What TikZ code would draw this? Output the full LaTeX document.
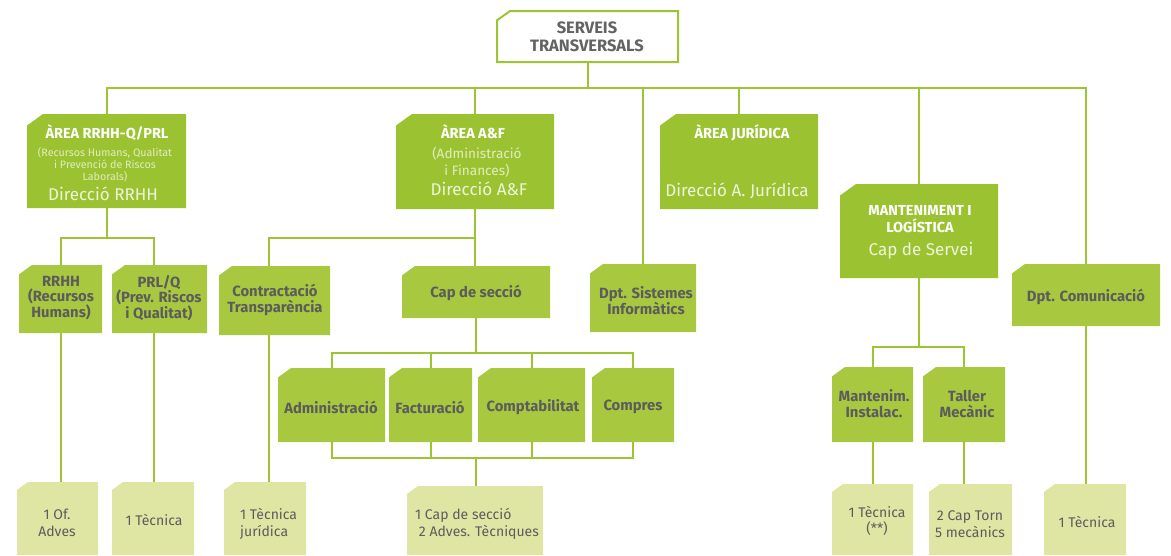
\documentclass[tikz,border=0pt]{standalone}
\usepackage{fontspec}
\setmainfont{Fira Sans}
\definecolor{lg}{HTML}{9DC432}
\definecolor{areaf}{HTML}{9BC331}
\definecolor{secf}{HTML}{A8C93F}
\definecolor{botf}{HTML}{DFE6A4}
\definecolor{dtext}{HTML}{5C5C5C}
\definecolor{ttext}{HTML}{636363}
\definecolor{subw}{HTML}{E2ECC0}
\definecolor{dirw}{HTML}{EEF4DC}
\newcommand\cbox[7][13]{%
  \node[inner sep=0pt, minimum width={(#5-#3)*1pt}, minimum height={(#6-#4)*1pt}] (#2) at ({(#3+#5)/2},{(#4+#6)/2}) {};
  \path[#7] (#3,{#4+#1*0.72}) -- ({#3+#1},#4) -- (#5,#4) -- (#5,#6) -- (#3,#6) -- cycle;
}
\tikzset{
  conn/.style={draw=lg, line width=2pt},
  areabox/.style={fill=areaf},
  secbox/.style={fill=secf},
  botbox/.style={fill=botf},
  topbox/.style={fill=white, draw=lg, line width=2pt},
  ttop/.style={inner sep=0pt, align=center, text=ttext, font=\bfseries\fontsize{16.5}{18}\selectfont},
  atitle/.style={inner sep=0pt, align=center, text=white, font=\bfseries\fontsize{14.5}{16.5}\selectfont},
  asub/.style={inner sep=0pt, align=center, text=subw, font=\fontsize{10.7}{12}\selectfont},
  asub2/.style={inner sep=0pt, align=center, text=subw, font=\fontsize{13.6}{17}\selectfont},
  adir/.style={inner sep=0pt, align=center, text=dirw, font=\fontsize{17}{18}\selectfont},
  stext/.style={inner sep=0pt, align=center, text=dtext, font=\bfseries\fontsize{14.8}{15.8}\selectfont},
  btext/.style={inner sep=0pt, align=center, text=dtext, font=\fontsize{14}{16.5}\selectfont},
  btextl/.style={inner sep=0pt, align=left, text=dtext, font=\fontsize{14}{17}\selectfont},
}
\begin{document}
\begin{tikzpicture}[x=1pt,y=-1pt]
\useasboundingbox (0,0) rectangle (1171,555);
% boxes
\cbox{top}{497}{11}{678}{62}{topbox}
\cbox[16]{arrh}{27}{114}{186}{208}{areabox}
\cbox[16]{aaf}{396}{114}{554}{209}{areabox}
\cbox[16]{ajur}{660}{114}{818}{209}{areabox}
\cbox[16]{mant}{840}{184}{998}{278}{areabox}
\cbox{rrhh}{19}{265}{102}{333}{secbox}
\cbox{prl}{112}{265}{207}{333}{secbox}
\cbox{contr}{219}{266}{330}{335}{secbox}
\cbox{cap}{402}{266}{550}{318}{secbox}
\cbox{sist}{590}{264}{696}{332}{secbox}
\cbox{comm}{1012}{264}{1160}{326}{secbox}
\cbox{adm}{278}{368}{385}{442}{secbox}
\cbox{fac}{389}{368}{472}{442}{secbox}
\cbox{cmp}{478}{368}{585}{442}{secbox}
\cbox{cpr}{592}{368}{674}{442}{secbox}
\cbox{minst}{832}{367}{913}{442}{secbox}
\cbox{tall}{923}{367}{1005}{442}{secbox}
\cbox[11]{bof}{17}{482}{98}{555}{botbox}
\cbox[11]{btec}{112}{482}{194}{555}{botbox}
\cbox[11]{bjur}{224}{482}{306}{555}{botbox}
\cbox[11]{bcap}{407}{486}{543}{555}{botbox}
\cbox[11]{bman}{832}{484}{913}{555}{botbox}
\cbox[11]{btor}{929}{484}{1012}{555}{botbox}
\cbox[11]{bcom}{1044}{484}{1126}{555}{botbox}
% connectors
\coordinate (bus) at (0,88);
\coordinate (b2) at (0,238);
\coordinate (b3) at (0,353);
\coordinate (b4) at (0,458);
\coordinate (b5) at (0,347);
\draw[conn] (top.south) -- (top.south |- bus);
\draw[conn] (arrh.north) -- (arrh.north |- bus) -- (comm.north |- bus) -- (comm.north);
\draw[conn] (aaf.north) -- (aaf.north |- bus);
\draw[conn] (sist.north) -- (sist.north |- bus);
\draw[conn] (ajur.north) -- (ajur.north |- bus);
\draw[conn] (mant.north) -- (mant.north |- bus);
% RRHH branch
\draw[conn] (arrh.south) -- (arrh.south |- b2);
\draw[conn] (rrhh.north) -- (rrhh.north |- b2) -- ([xshift=-6pt]prl.north |- b2) -- ([xshift=-6pt]prl.north);
\draw[conn] (rrhh.south) -- (rrhh.south |- bof.north);
\draw[conn] ([xshift=-6pt]prl.south) -- ([xshift=-6pt]prl.south |- btec.north);
% A&F branch
\draw[conn] (aaf.south) -- (aaf.south |- cap.north);
\draw[conn] (aaf.south |- b2) -- ([xshift=-6pt]contr.north |- b2) -- ([xshift=-6pt]contr.north);
\draw[conn] ([xshift=-6pt]contr.south) -- ([xshift=-6pt]contr.south |- bjur.north);
\draw[conn] (cap.south) -- (cap.south |- b3);
\draw[conn] (adm.north) -- (adm.north |- b3) -- (cpr.north |- b3) -- (cpr.north);
\draw[conn] (fac.north) -- (fac.north |- b3);
\draw[conn] (cmp.north) -- (cmp.north |- b3);
\draw[conn] (adm.south) -- (adm.south |- b4) -- (cpr.south |- b4) -- (cpr.south);
\draw[conn] (fac.south) -- (fac.south |- b4);
\draw[conn] (cmp.south) -- (cmp.south |- b4);
\draw[conn] (cap.south |- b4) -- (cap.south |- bcap.north);
% Manteniment branch
\draw[conn] (mant.south) -- (mant.south |- b5);
\draw[conn] (minst.north) -- (minst.north |- b5) -- (tall.north |- b5) -- (tall.north);
\draw[conn] (minst.south) -- (minst.south |- bman.north);
\draw[conn] (tall.south) -- (tall.south |- btor.north);
\draw[conn] (comm.south) -- (comm.south |- bcom.north);
% texts
\node[ttop] (ttop) at (587,37) {SERVEIS\\TRANSVERSALS};
\node[atitle] (tarrh) at (107,133) {ÀREA RRHH-Q/PRL};
\node[asub] (sarrh) at (105,165) {(Recursos Humans, Qualitat\\i Prevenció de Riscos\\Laborals)};
\node[adir] (darrh) at (103,194) {Direcció RRHH};
\node[atitle] (taaf) at (473,132) {ÀREA A\&F};
\node[asub2] (saaf) at (477,162) {(Administració\\i Finances)};
\node[adir] (daaf) at (479,189) {Direcció A\&F};
\node[atitle] (tajur) at (742,133) {ÀREA JURÍDICA};
\node[adir] (dajur) at (737,191) {Direcció A. Jurídica};
\node[atitle] (tmant) at (920,219) {MANTENIMENT I\\LOGÍSTICA};
\node[adir] (dmant) at (921,251) {Cap de Servei};
\node[stext] (trrhh) at (61,298) {RRHH\\(Recursos\\Humans)};
\node[stext] (tprl) at (159,298) {PRL/Q\\(Prev. Riscos\\i Qualitat)};
\node[stext] (tcontr) at (275,300) {Contractació\\Transparència};
\node[stext] (tcap) at (476,293) {Cap de secció};
\node[stext] (tsist) at (646,301) {Dpt. Sistemes\\Informàtics};
\node[stext] (tcomm) at (1086,297) {Dpt. Comunicació};
\node[stext] (tadm) at (331,407) {Administració};
\node[stext] (tfac) at (430,407) {Facturació};
\node[stext] (tcmp) at (533,407) {Comptabilitat};
\node[stext] (tcpr) at (633,407) {Compres};
\node[stext] (tminst) at (874,404) {Mantenim.\\Instalac.};
\node[stext] (ttall) at (967,404) {Taller\\Mecànic};
\node[btext] (tbof) at (57,523) {1 Of.\\Adves};
\node[btext] (tbtec) at (154,520) {1 Tècnica};
\node[btextl, anchor=west] (tbjur) at (240,524) {1 Tècnica\\jurídica};
\node[btextl, anchor=west] (tbcap) at (415,524) {1 Cap de secció\\\ 2 Adves. Tècniques};
\node[btext] (tbman) at (877,521) {1 Tècnica\\(**)};
\node[btext] (tbtor) at (970,524) {2 Cap Torn\\5 mecànics};
\node[btext] (tbcom) at (1087,522) {1 Tècnica};
\end{tikzpicture}
\end{document}
